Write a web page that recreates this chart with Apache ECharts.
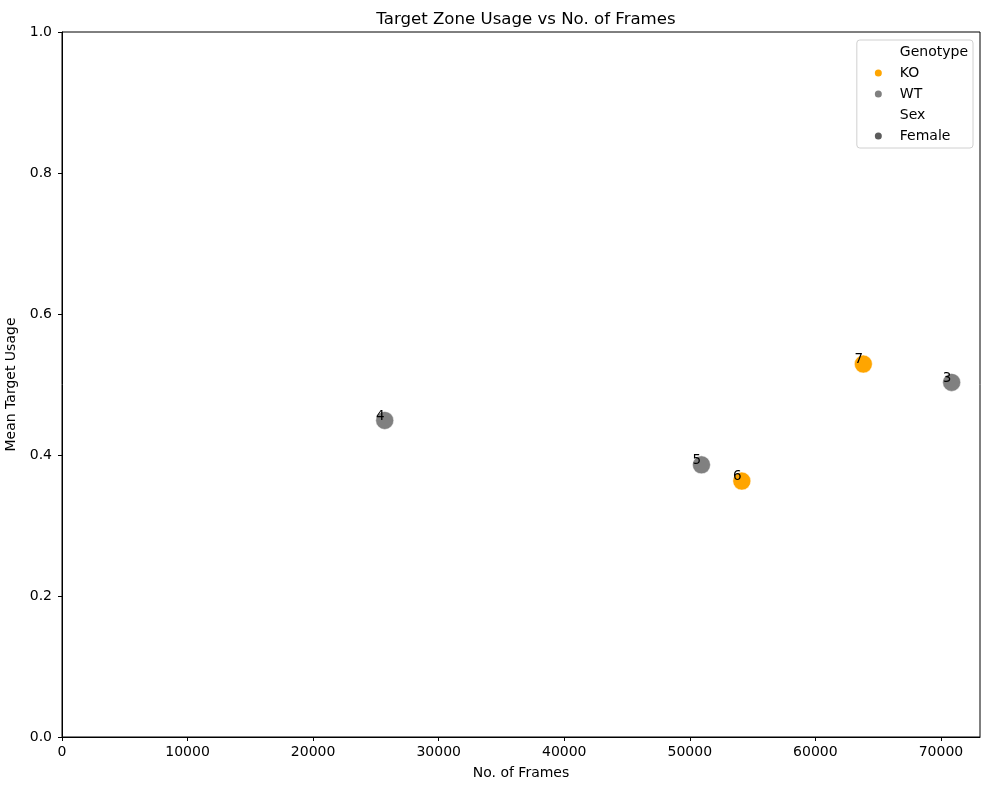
<!DOCTYPE html>
<html>
<head>
<meta charset="utf-8">
<script src="https://cdn.jsdelivr.net/npm/echarts@6/dist/echarts.min.js"></script>
<style>
html,body{margin:0;padding:0;background:#fff;}
#main{width:989px;height:790px;}
</style>
</head>
<body>
<div id="main"></div>
<script>
// ---- data ----
const animalIds = ['3', '4', '5', '6', '7'];
const frames = [70852, 25702, 50927, 54142, 63818];
const meanUsage = [0.503, 0.449, 0.386, 0.363, 0.529];
const genotypes = ['WT', 'WT', 'WT', 'KO', 'KO'];
const genotypeLevels = ['KO', 'WT'];
const sexLevels = ['Female'];
const xTicks = [0, 10000, 20000, 30000, 40000, 50000, 60000, 70000];
const yTicks = [0.0, 0.2, 0.4, 0.6, 0.8, 1.0];
const xMax = 73110;

// ---- style ----
const FONT = 'DejaVu Sans';
const FS = 14;
const colors = { KO: '#FFA500', WT: '#808080', Female: '#333333' };

const chart = echarts.init(document.getElementById('main'), null, { renderer: 'canvas' });

const pointSeries = genotypeLevels.map(g => ({
  name: g,
  type: 'scatter',
  symbol: 'circle',
  symbolSize: 18,
  itemStyle: { color: colors[g], borderColor: '#ffffff', borderWidth: 0.5, opacity: 1 },
  data: animalIds.map((id, i) => ({ id: id, value: [frames[i], meanUsage[i]], g: genotypes[i] }))
    .filter(d => d.g === g)
    .map(d => ({ name: d.id, value: d.value })),
  label: {
    show: true,
    formatter: p => p.name,
    position: [9, 12],
    align: 'right',
    verticalAlign: 'bottom',
    color: '#000',
    fontFamily: FONT,
    fontSize: 13.5
  },
  emphasis: { disabled: true }
}));

const headerSeries = ['Genotype', 'Sex'].map(n => ({
  name: n, type: 'scatter', data: [], itemStyle: { color: 'rgba(0,0,0,0)' }
}));
const sexSeries = sexLevels.map(s => ({
  name: s, type: 'scatter', data: [], itemStyle: { color: colors[s] }
}));

const legendItems = [
  { name: 'Genotype', itemStyle: { opacity: 0 } },
  ...genotypeLevels.map(g => ({ name: g, itemStyle: { color: colors[g], borderWidth: 0 } })),
  { name: 'Sex', itemStyle: { opacity: 0 } },
  ...sexLevels.map(s => ({ name: s, itemStyle: { color: colors[s], borderWidth: 0 } }))
];

chart.setOption({
  animation: false,
  backgroundColor: '#fff',
  textStyle: { fontFamily: FONT },
  title: {
    text: 'Target Zone Usage vs No. of Frames',
    left: 521,
    textAlign: 'center',
    top: 6,
    textStyle: { fontFamily: FONT, fontSize: 16.6, fontWeight: 'normal', color: '#000' }
  },
  grid: {
    left: 62, right: 9, top: 32, bottom: 53,
    outerBoundsMode: 'none',
    show: true, borderColor: '#000', borderWidth: 1, containLabel: false
  },
  legend: {
    orient: 'vertical',
    right: 16,
    top: 40,
    data: legendItems,
    icon: 'circle',
    itemWidth: 33,
    itemHeight: 7,
    itemGap: 7,
    padding: [5, 5, 5, 18],
    borderColor: '#d0d0d0',
    borderWidth: 1,
    borderRadius: 3,
    backgroundColor: 'rgba(255,255,255,0.8)',
    selectedMode: false,
    textStyle: { fontFamily: FONT, fontSize: FS, color: '#000' }
  },
  xAxis: {
    type: 'value',
    min: 0,
    max: xMax,
    interval: 10000,
    name: 'No. of Frames',
    nameLocation: 'middle',
    nameGap: 29,
    nameTextStyle: { fontFamily: FONT, fontSize: FS, color: '#000' },
    splitLine: { show: false },
    axisLine: { show: true, onZero: false, lineStyle: { color: '#000', width: 1 } },
    axisTick: { show: true, length: 4, lineStyle: { color: '#000' },
      customValues: xTicks },
    axisLabel: { margin: 8, fontFamily: FONT, fontSize: FS, color: '#000',
      customValues: xTicks, formatter: v => String(v) }
  },
  yAxis: {
    type: 'value',
    min: 0,
    max: 1,
    interval: 0.2,
    name: 'Mean Target Usage',
    nameLocation: 'middle',
    nameGap: 39,
    nameTextStyle: { fontFamily: FONT, fontSize: FS, color: '#000' },
    splitLine: { show: false },
    axisLine: { show: true, onZero: false, lineStyle: { color: '#000', width: 1 } },
    axisTick: { show: true, length: 4, lineStyle: { color: '#000' }, customValues: yTicks },
    axisLabel: { margin: 10, fontFamily: FONT, fontSize: FS, color: '#000',
      customValues: yTicks, formatter: v => Number(v).toFixed(1) }
  },
  series: [...headerSeries, ...pointSeries, ...sexSeries]
});
</script>
</body>
</html>
